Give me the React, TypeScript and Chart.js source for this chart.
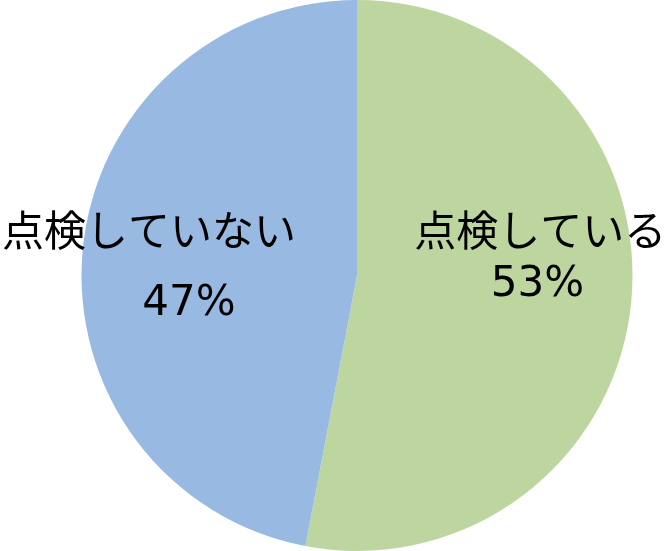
import React, { useEffect, useRef } from "react";
import { Chart, registerables } from "chart.js";

Chart.register(...registerables);

const categories = ["点検している", "点検していない"];
const values = [53, 47];
const percentLabels = ["53%", "47%"];
const colors = ["rgb(189,214,160)", "rgb(152,185,226)"];

const labelPlugin = {
  id: "pieLabels",
  afterDatasetsDraw(chart: any) {
    const meta = chart.getDatasetMeta(0);
    const arc = meta.data[0];
    if (!arc) return;
    const cx = arc.x;
    const cy = arc.y;
    const r = arc.outerRadius;
    const ctx = chart.ctx;
    ctx.save();
    ctx.fillStyle = "#000";
    ctx.textAlign = "center";
    ctx.textBaseline = "middle";
    const pos = [
      { name: [0.665, -0.165], pct: [0.655, 0.035] },
      { name: [-0.755, -0.165], pct: [-0.61, 0.105] },
    ];
    categories.forEach((c, i) => {
      ctx.font = '42px "Noto Sans CJK JP"';
      ctx.fillText(c, cx + pos[i].name[0] * r, cy + pos[i].name[1] * r);
      ctx.font = '42px "DejaVu Sans"';
      ctx.fillText(percentLabels[i], cx + pos[i].pct[0] * r, cy + pos[i].pct[1] * r);
    });
    ctx.restore();
  },
};

export default function App() {
  const ref = useRef<HTMLCanvasElement>(null);
  useEffect(() => {
    if (!ref.current) return;
    const chart = new Chart(ref.current, {
      type: "pie",
      data: {
        labels: categories,
        datasets: [
          {
            data: values,
            backgroundColor: colors,
            borderWidth: 0,
          },
        ],
      },
      options: {
        animation: false,
        responsive: true,
        maintainAspectRatio: false,
        layout: { padding: { left: 47, right: 0, top: 0, bottom: 0 } },
        plugins: {
          legend: { display: false },
          tooltip: { enabled: false },
        },
      },
      plugins: [labelPlugin],
    });
    return () => chart.destroy();
  }, []);
  return (
    <div style={{ position: "fixed", left: 0, top: 0, width: 667, height: 551, background: "#fff" }}>
      <canvas ref={ref} />
    </div>
  );
}
